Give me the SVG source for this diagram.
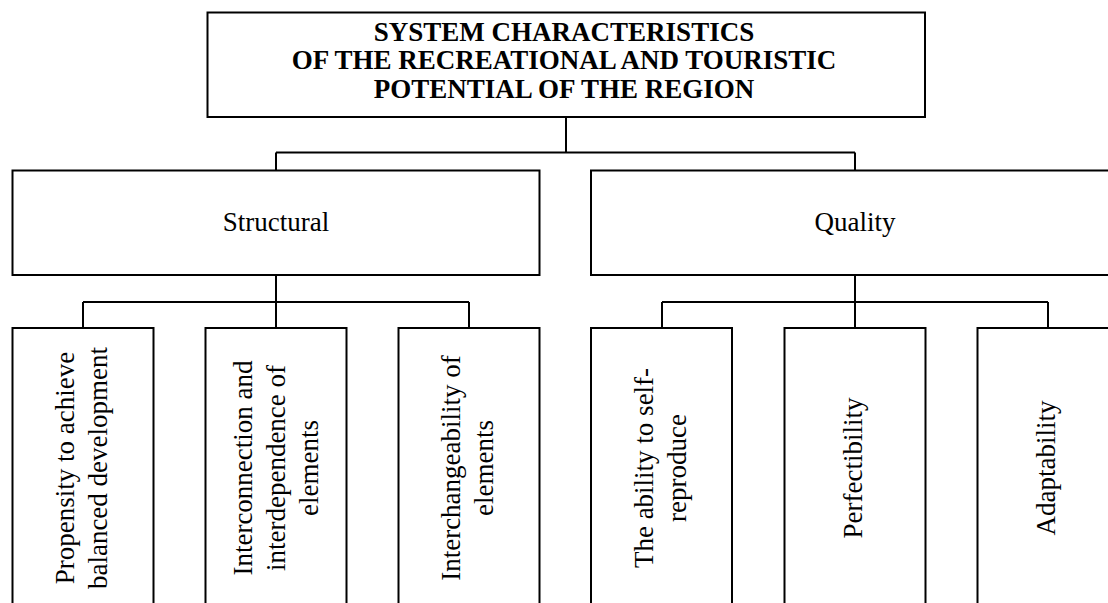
<svg xmlns="http://www.w3.org/2000/svg" width="1108" height="603" viewBox="0 0 1108 603">
  <style>
    .box { fill: #ffffff; stroke: #000000; stroke-width: 2; }
    .conn { fill: none; stroke: #000000; stroke-width: 2; }
    .title { font-family: "Liberation Serif", "Times New Roman", serif; font-size: 27px; font-weight: bold; fill: #000; text-anchor: middle; }
    .lbl { font-family: "Liberation Serif", "Times New Roman", serif; font-size: 27px; fill: #000; text-anchor: middle; }
  </style>
  <rect x="0" y="0" width="1108" height="603" fill="#ffffff"/>
  <g id="connectors">
    <path class="conn" d="M566 117 V152.5 M276 152.5 H855 M276 152.5 V170.5 M855 152.5 V170.5"/>
    <path class="conn" d="M276 275 V328 M83 302 H469 M83 302 V328 M469 302 V328"/>
    <path class="conn" d="M855 275 V328 M662 302 H1048 M662 302 V328 M1048 302 V328"/>
  </g>
  <g id="root">
    <rect class="box" x="207.5" y="12.5" width="717.5" height="104.5"/>
    <text class="title" x="564" y="40.5">SYSTEM CHARACTERISTICS</text>
    <text class="title" x="564" y="69">OF THE RECREATIONAL AND TOURISTIC</text>
    <text class="title" x="564" y="97.5">POTENTIAL OF THE REGION</text>
  </g>
  <g id="structural">
    <rect class="box" x="12.5" y="170.5" width="527" height="104.5"/>
    <text class="lbl" x="276" y="231">Structural</text>
  </g>
  <g id="quality">
    <rect class="box" x="591" y="170.5" width="530" height="104.5"/>
    <text class="lbl" x="855" y="231">Quality</text>
  </g>
  <g id="propensity">
    <rect class="box" x="12.5" y="328" width="141" height="290"/>
    <text class="lbl" transform="translate(83,468) rotate(-90)"><tspan x="0" y="-9.5">Propensity to achieve</tspan><tspan x="0" y="23.5">balanced development</tspan></text>
  </g>
  <g id="interconnection">
    <rect class="box" x="205.5" y="328" width="141" height="290"/>
    <text class="lbl" transform="translate(277,468) rotate(-90)"><tspan x="0" y="-25">Interconnection and</tspan><tspan x="0" y="8">interdependence of</tspan><tspan x="0" y="41">elements</tspan></text>
  </g>
  <g id="interchangeability">
    <rect class="box" x="398.5" y="328" width="141" height="290"/>
    <text class="lbl" transform="translate(469,468) rotate(-90)"><tspan x="0" y="-9.5">Interchangeability of</tspan><tspan x="0" y="23.5">elements</tspan></text>
  </g>
  <g id="self-reproduce">
    <rect class="box" x="591" y="328" width="141" height="290"/>
    <text class="lbl" transform="translate(662,468) rotate(-90)"><tspan x="0" y="-9.5">The ability to self-</tspan><tspan x="0" y="23.5">reproduce</tspan></text>
  </g>
  <g id="perfectibility">
    <rect class="box" x="784.5" y="328" width="141" height="290"/>
    <text class="lbl" transform="translate(855,468) rotate(-90)"><tspan x="0" y="7">Perfectibility</tspan></text>
  </g>
  <g id="adaptability">
    <rect class="box" x="977.5" y="328" width="141" height="290"/>
    <text class="lbl" transform="translate(1048,468) rotate(-90)"><tspan x="0" y="7">Adaptability</tspan></text>
  </g>
</svg>
